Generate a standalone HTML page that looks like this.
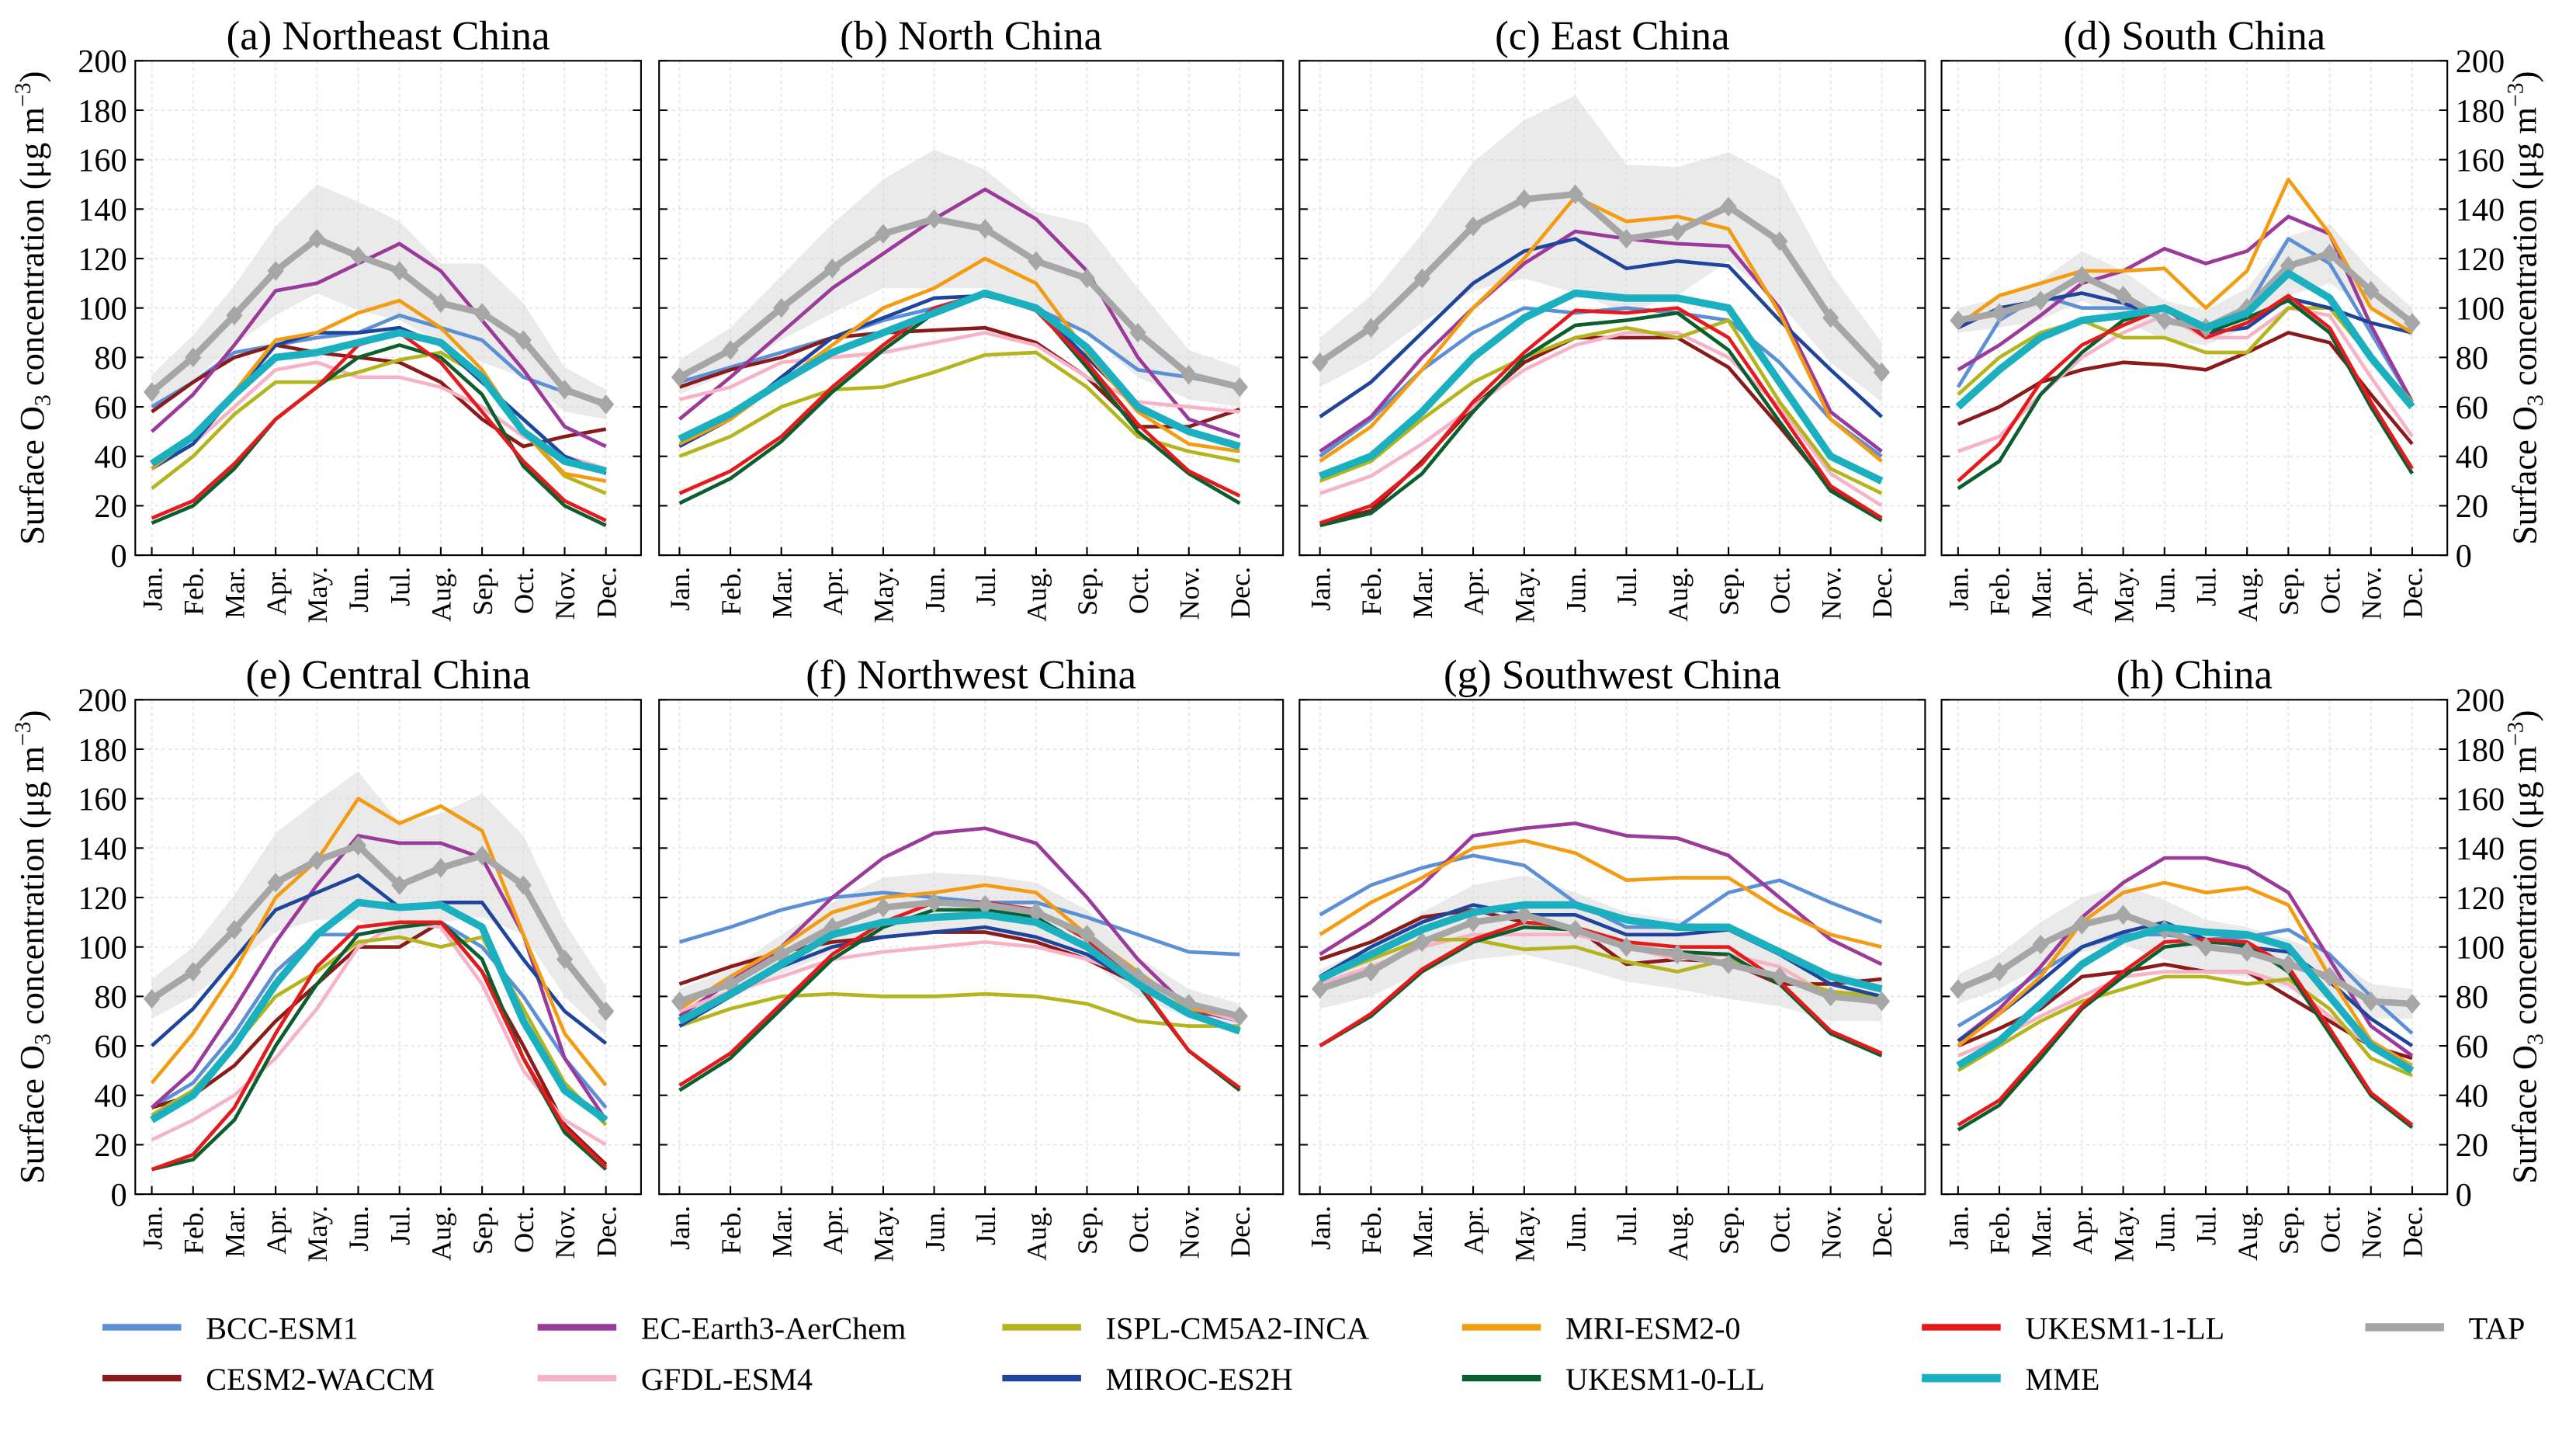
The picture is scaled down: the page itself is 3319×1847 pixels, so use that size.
<!DOCTYPE html>
<html><head><meta charset="utf-8"><style>
html,body{margin:0;padding:0;background:#fff}
svg{display:block;font-family:"Liberation Serif",serif}
</style></head><body>
<svg id="chart" width="3319" height="1847" viewBox="0 0 1568 873" xmlns="http://www.w3.org/2000/svg"></svg>
<script>
const months=["Jan.","Feb.","Mar.","Apr.","May.","Jun.","Jul.","Aug.","Sep.","Oct.","Nov.","Dec."];
const yTicks=[0,20,40,60,80,100,120,140,160,180,200];
const modelNames=["BCC-ESM1","CESM2-WACCM","EC-Earth3-AerChem","GFDL-ESM4","ISPL-CM5A2-INCA","MIROC-ES2H","MRI-ESM2-0","UKESM1-0-LL","UKESM1-1-LL","MME","TAP"];
const panelTitles=["(a) Northeast China","(b) North China","(c) East China","(d) South China","(e) Central China","(f) Northwest China","(g) Southwest China","(h) China"];
const dataA=[[60,70,82,85,88,90,97,92,87,72,66,62],[58,70,80,85,82,80,78,70,55,44,48,51],[50,65,85,107,110,118,126,115,95,75,52,44],[35,45,60,75,78,72,72,68,60,48,40,35],[27,40,57,70,70,74,79,82,72,50,32,25],[35,45,65,85,90,90,92,85,70,55,40,33],[35,48,66,87,90,98,103,92,75,50,33,30],[13,20,35,55,68,80,85,80,65,36,20,12],[15,22,37,55,68,85,90,78,58,38,22,14],[37,48,65,80,82,86,90,86,72,50,38,34],[66,80,97,115,128,121,115,102,98,87,67,61]];
const dataB=[[70,76,82,88,95,100,106,100,90,75,72,68],[68,75,80,88,90,91,92,86,72,52,52,59],[55,72,90,108,122,136,148,136,115,80,55,48],[63,68,78,80,82,86,90,85,72,62,60,58],[40,48,60,67,68,74,81,82,68,48,42,38],[44,55,72,88,96,104,105,100,80,60,50,44],[45,55,70,85,100,108,120,110,82,58,45,42],[21,31,46,66,83,98,106,100,76,50,33,21],[25,34,48,68,85,100,106,99,78,53,34,24],[47,57,70,82,90,98,106,100,84,60,50,44],[72,83,100,116,130,136,132,119,112,90,73,68]];
const dataC=[[40,55,75,90,100,98,100,98,95,78,55,40],[13,18,38,60,78,88,88,88,76,52,27,15],[42,56,80,100,118,131,128,126,125,100,58,42],[25,32,45,60,75,85,90,90,80,60,33,20],[30,38,55,70,80,88,92,88,95,62,35,25],[56,70,90,110,123,128,116,119,117,95,75,56],[38,52,75,100,120,145,135,137,132,98,55,38],[12,17,33,58,80,93,95,98,83,54,26,14],[13,20,37,62,82,99,98,100,88,58,28,15],[32,40,58,80,96,106,104,104,100,70,40,30],[78,92,112,133,144,146,128,131,141,127,96,74]];
const dataD=[[68,95,105,100,100,100,92,100,128,118,90,62],[53,60,70,75,78,77,75,82,90,86,65,45],[75,85,97,110,115,124,118,123,137,130,93,62],[42,48,65,80,90,97,88,88,100,97,72,48],[65,80,90,95,88,88,82,82,100,100,80,62],[92,100,103,106,102,96,90,92,104,100,94,90],[93,105,110,115,115,116,100,115,152,130,100,90],[27,38,65,82,95,100,90,96,103,90,60,33],[30,45,70,85,93,100,88,94,105,92,62,35],[60,75,88,95,97,100,92,98,114,104,80,60],[95,98,103,113,105,95,92,100,117,122,107,94]];
const dataE=[[35,45,65,90,105,105,108,110,100,80,55,35],[35,40,52,70,85,100,100,110,90,60,28,12],[35,50,75,102,125,145,142,142,136,105,55,30],[22,30,40,55,75,100,110,108,85,50,30,20],[32,42,60,80,90,102,104,100,104,75,45,28],[60,75,95,115,122,129,116,118,118,95,74,61],[45,65,90,120,135,160,150,157,147,105,65,44],[10,14,30,60,85,105,108,110,95,55,25,10],[10,16,35,65,92,108,110,110,90,55,27,11],[30,40,60,85,105,118,116,117,108,70,42,30],[79,90,107,126,135,141,125,132,137,125,95,74]];
const dataF=[[102,108,115,120,122,120,118,118,112,105,98,97],[85,92,98,102,104,106,106,102,95,85,74,71],[72,86,100,120,136,146,148,142,120,95,75,70],[74,82,88,95,98,100,102,100,95,88,76,70],[68,75,80,81,80,80,81,80,77,70,68,68],[68,80,92,100,104,106,108,104,97,85,73,66],[75,88,100,114,120,122,125,122,105,90,75,72],[42,55,75,95,108,115,115,112,100,85,58,42],[44,57,77,97,110,118,118,115,103,86,58,43],[70,81,93,105,110,112,113,110,100,85,73,66],[78,85,97,108,116,118,117,114,105,88,77,72]];
const dataG=[[113,125,132,137,133,118,108,108,122,127,118,110],[95,102,112,115,110,108,93,95,94,85,85,87],[97,110,125,145,148,150,145,144,137,120,103,93],[85,92,100,105,105,105,100,95,97,92,80,77],[87,95,103,103,99,100,94,90,95,88,82,80],[88,100,110,117,113,113,105,105,107,97,85,80],[105,118,128,140,143,138,127,128,128,115,105,100],[60,72,90,102,108,107,100,98,97,85,65,56],[60,73,91,103,110,108,102,100,100,86,66,57],[87,97,107,114,117,117,111,108,108,98,88,83],[83,90,102,110,113,107,100,97,93,88,80,78]];
const dataH=[[68,78,90,100,105,105,103,104,107,97,80,65],[60,67,75,88,90,93,90,90,80,70,60,55],[62,75,92,112,126,136,136,132,122,95,68,56],[56,63,72,80,88,90,90,90,85,72,60,52],[50,60,70,78,83,88,88,85,87,75,55,48],[62,73,86,100,106,110,103,100,98,86,71,60],[60,73,88,110,122,126,122,124,117,88,62,52],[26,36,55,75,88,100,102,101,90,65,40,27],[28,38,57,76,90,102,103,102,92,67,41,28],[52,62,77,93,103,108,106,105,100,80,60,50],[83,90,101,109,113,107,100,98,93,88,78,77]];
const tapSpreadA=[7,9,12,18,22,22,20,16,20,15,9,6];
const tapSpreadB=[7,9,13,18,22,28,24,20,22,18,10,8];
const tapSpreadC=[10,13,18,26,32,40,30,26,22,25,18,12];
const tapSpreadD=[5,6,8,10,10,8,7,8,12,12,8,6];
const tapSpreadE=[8,10,14,20,24,30,25,22,25,20,15,10];
const tapSpreadF=[5,6,8,10,12,12,12,12,10,8,6,5];
const tapSpreadG=[8,10,12,15,16,15,14,14,14,12,10,8];
const tapSpreadH=[6,7,9,11,12,12,11,10,10,9,7,6];
const allData=[dataA,dataB,dataC,dataD,dataE,dataF,dataG,dataH];
const allSpread=[tapSpreadA,tapSpreadB,tapSpreadC,tapSpreadD,tapSpreadE,tapSpreadF,tapSpreadG,tapSpreadH];
const colors=["#5b8fd6","#8b1a1a","#9b3a9b","#f6b3c6","#b4b41c","#1f449c","#f39c12","#0b5e2e","#e41a1c","#1ab0c0","#a6a6a6"];
const NS="http://www.w3.org/2000/svg";
const svg=document.getElementById('chart');
function mk(tag,attrs,parent){const e=document.createElementNS(NS,tag);for(const k in attrs)e.setAttribute(k,attrs[k]);(parent||svg).appendChild(e);return e;}
const cols=[[82,390],[401,781],[791,1172],[1182,1490]];
const rows=[[37,338],[426,727]];
for(let p=0;p<8;p++){
  const r=rows[Math.floor(p/4)],c=cols[p%4];
  const x0=c[0],x1=c[1],yT=r[0],yB=r[1];
  const xs=i=>x0+(i+0.4)/(12.25)*(x1-x0);
  const ys=v=>yB-v/200*(yB-yT);
  const g=mk('g',{});
  
  
  // grid
  yTicks.forEach(t=>{const l=mk('line',{x1:x0,x2:x1,y1:ys(t),y2:ys(t),stroke:'#e4e4e4','stroke-width':0.8,'stroke-dasharray':'2,2'},g);
    const tk=mk('line',{x1:x0,x2:x0+5,y1:ys(t),y2:ys(t),stroke:'#000','stroke-width':1},g);
    const tk2=mk('line',{x1:x1,x2:x1-5,y1:ys(t),y2:ys(t),stroke:'#000','stroke-width':1},g);});
  months.forEach((m,i)=>{mk('line',{x1:xs(i),x2:xs(i),y1:yT,y2:yB,stroke:'#e4e4e4','stroke-width':0.8,'stroke-dasharray':'2,2'},g);
    mk('line',{x1:xs(i),x2:xs(i),y1:yB,y2:yB-5,stroke:'#000','stroke-width':1},g);
    const t=mk('text',{x:0,y:0,transform:`translate(${xs(i)+6},${yB+7}) rotate(-90)`,'text-anchor':'end','font-size':17},g);t.textContent=m;
    });
  // band
  const d=allData[p],sp=allSpread[p],tap=d[10];
  let pts=tap.map((v,i)=>xs(i)+','+ys(v+sp[i]));
  pts=pts.concat(tap.map((v,i)=>xs(i)+','+ys(v-sp[i])).reverse());
  const band=mk('polygon',{points:pts.join(' '),fill:'#d9d9d9','fill-opacity':0.55},g);
  
  const order=[0,1,2,3,4,5,6,7,8,10,9];
  order.forEach(s=>{
    const w=s===9?4.5:(s===10?4:2.2);
    const pl=mk('polyline',{points:d[s].map((v,i)=>xs(i)+','+ys(v)).join(' '),fill:'none',stroke:colors[s],'stroke-width':w,'stroke-linejoin':'round'},g);
    
    
    if(s===10){d[s].forEach((v,i)=>{const m=mk('path',{d:`M${xs(i)},${ys(v)-6}l5,6l-5,6l-5,-6z`,fill:'#a6a6a6'},g);
      });}
  });
  const fr=mk('rect',{x:x0,y:yT,width:x1-x0,height:yB-yT,fill:'none',stroke:'#000','stroke-width':1},g);
  
  const tt=mk('text',{x:(x0+x1)/2,y:yT-7,'text-anchor':'middle','font-size':25},g);tt.textContent=panelTitles[p];
  
  if(p%4===0||p%4===3){
    const left=p%4===0;
    yTicks.forEach(t=>{const tl=mk('text',{x:left?x0-5:x1+5,y:ys(t)+7,'text-anchor':left?'end':'start','font-size':20},g);tl.textContent=t;
      });
    const cy=(yT+yB)/2, cx=left?26:1544;
    const yl=mk('text',{x:0,y:0,transform:`translate(${cx},${cy}) rotate(-90)`,'text-anchor':'middle','font-size':21},g);
    yl.innerHTML='Surface O<tspan font-size="14" dy="4">3</tspan><tspan dy="-4"> concentration (μg m</tspan><tspan font-size="14" dy="-8">−3</tspan><tspan dy="8">)</tspan>';
    
  }
}
// legend
const legPos=[[62,808],[62,839],[327,808],[327,839],[610,808],[610,839],[890,808],[890,839],[1170,808],[1170,839],[1440,808]];
const legOrder=[0,1,2,3,4,5,6,7,8,9,10];
legOrder.forEach((s,k)=>{const [lx,ly]=legPos[k];
  const g=mk('g',{});
  mk('line',{x1:lx,x2:lx+48,y1:ly,y2:ly,stroke:colors[s],'stroke-width':s>=9?5:4},g);
  const t=mk('text',{x:lx+63,y:ly+7,'font-size':19},g);t.textContent=modelNames[s];});
</script>
</body></html>
